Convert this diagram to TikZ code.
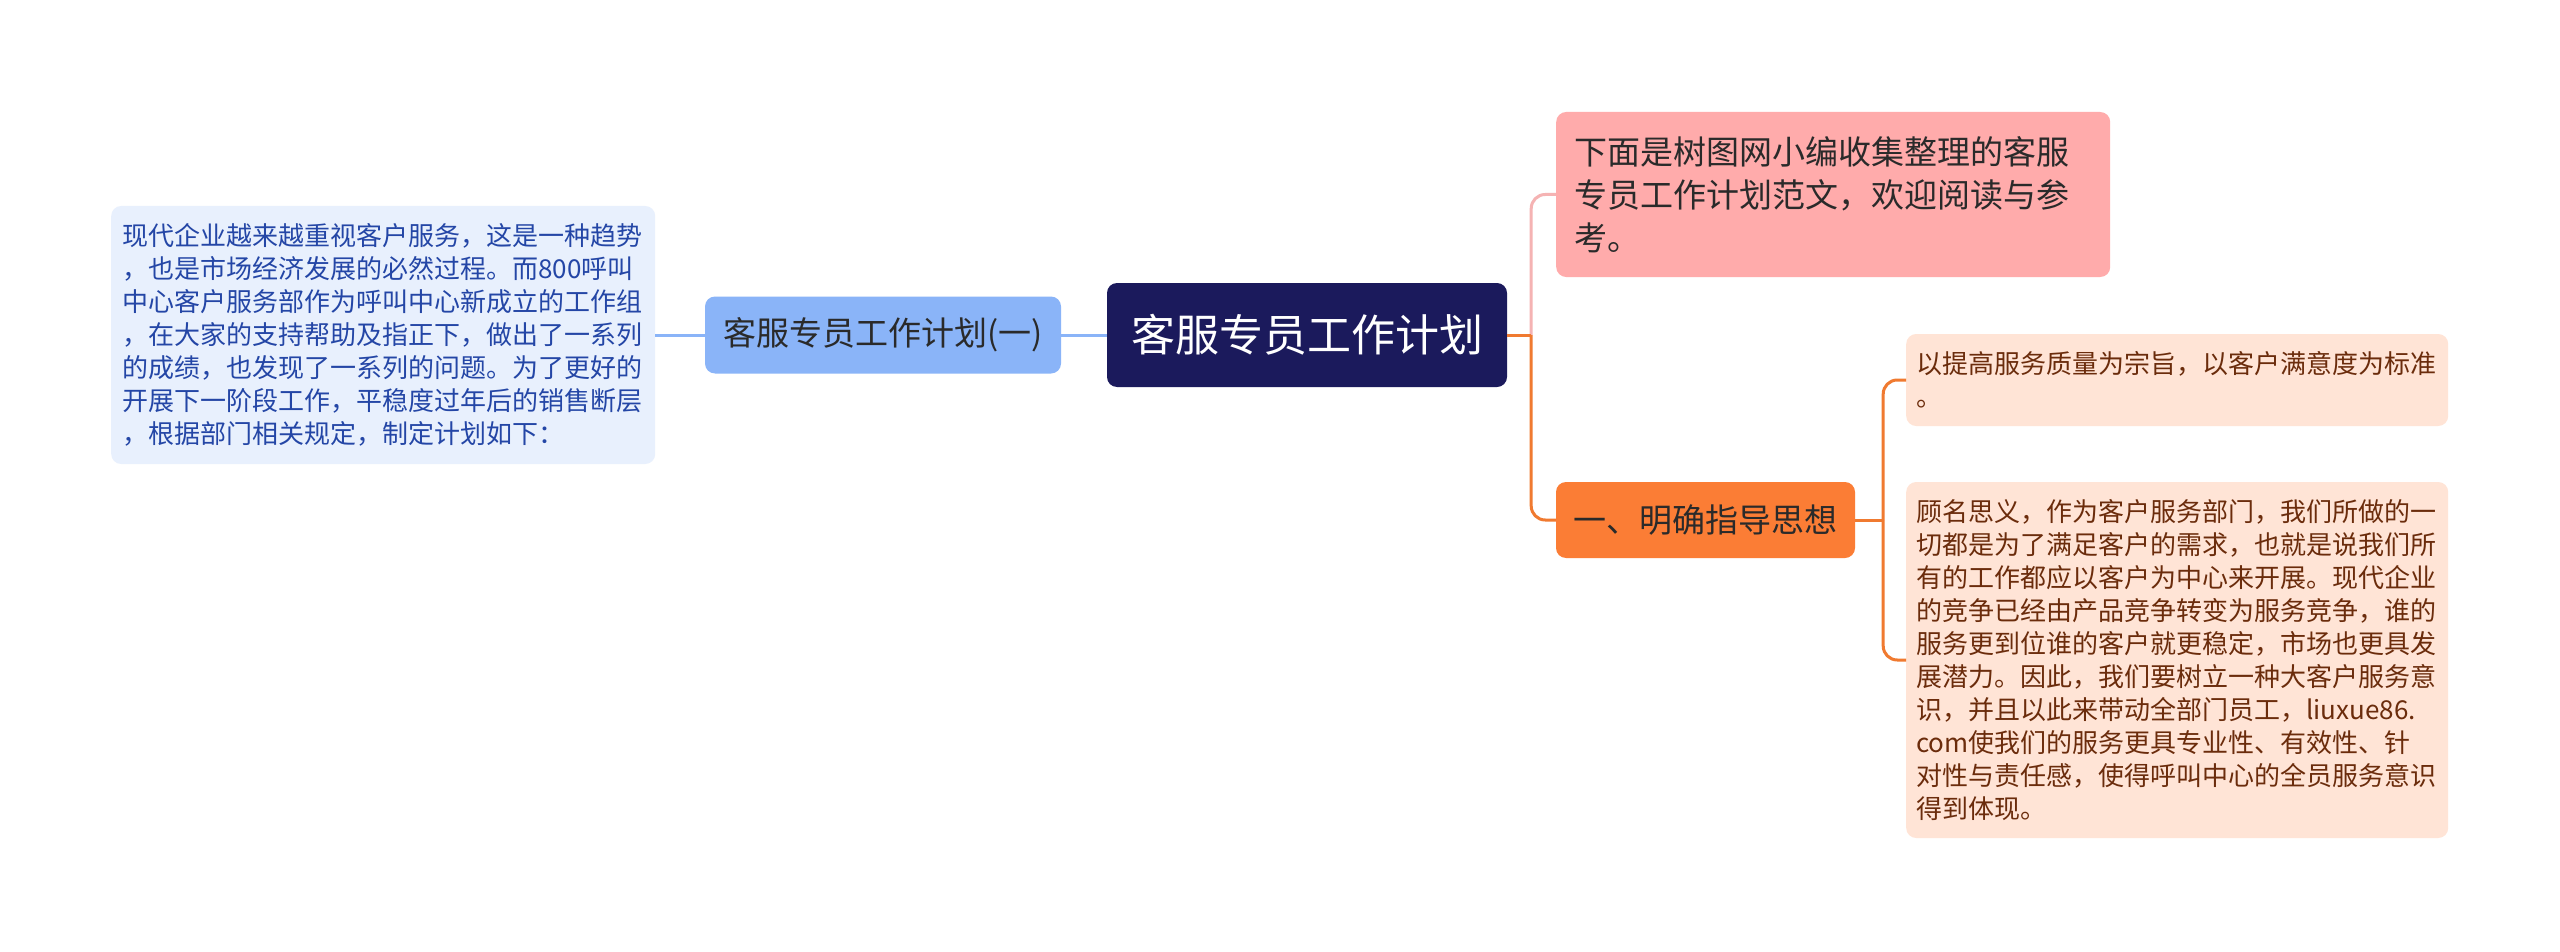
\documentclass[tikz,border=0pt]{standalone}
\usepackage{fontspec}
\newfontfamily\cjk{Noto Sans CJK SC}
\definecolor{leftfill}{HTML}{E8F0FD}
\definecolor{lefttext}{HTML}{2446A6}
\definecolor{subfill}{HTML}{8AB4F8}
\definecolor{blueline}{HTML}{8AB4F8}
\definecolor{rootfill}{HTML}{1B1A5C}
\definecolor{pinkfill}{HTML}{FFABAB}
\definecolor{pinkline}{HTML}{F5B3B3}
\definecolor{orangefill}{HTML}{FB7D35}
\definecolor{orangeline}{HTML}{F07A30}
\definecolor{peachfill}{HTML}{FFE4D6}
\definecolor{peachtext}{HTML}{6B2C0C}
\definecolor{darktext}{HTML}{2A2A2A}
\begin{document}
\begin{tikzpicture}[x=1pt,y=-1pt,
  box/.style={rounded corners=10pt, inner ysep=0pt, align=left},
  small/.style={font=\cjk\fontsize{26}{33}\selectfont},
  mid/.style={font=\cjk\fontsize{33}{43}\selectfont},
  conn/.style={line width=3pt},
  elbow/.style={line width=3pt, rounded corners=14pt}]
\useasboundingbox[fill=white] (0,0) rectangle (2560,952);

\node[box, small, fill=leftfill, text=lefttext, anchor=west, inner xsep=11pt,
  text width=522pt, minimum height=258pt] (lefttextbox) at (111,335)
 {现代企业越来越重视客户服务，这是一种趋势\\
 ，也是市场经济发展的必然过程。而800呼叫\\
 中心客户服务部作为呼叫中心新成立的工作组\\
 ，在大家的支持帮助及指正下，做出了一系列\\
 的成绩，也发现了一系列的问题。为了更好的\\
 开展下一阶段工作，平稳度过年后的销售断层\\
 ，根据部门相关规定，制定计划如下：};

\node[box, mid, fill=subfill, text=darktext, minimum width=356pt,
  minimum height=77pt, inner xsep=0pt] (sub) at (883,335) {客服专员工作计划(一)};

\node[box, fill=rootfill, text=white, font=\cjk\fontsize{44}{52}\selectfont,
  minimum width=400pt, minimum height=104pt, inner xsep=0pt] (root) at (1307,335) {客服专员工作计划};

\node[box, mid, fill=pinkfill, text=darktext, anchor=west, inner xsep=18pt,
  text width=518pt, minimum height=165pt] (pink) at (1556,194.5)
 {下面是树图网小编收集整理的客服\\
 专员工作计划范文，欢迎阅读与参\\
 考。};

\node[box, mid, fill=orangefill, text=darktext, minimum width=299pt,
  minimum height=76pt, inner xsep=0pt] (orange) at (1705.5,520) {一、明确指导思想};

\node[box, small, fill=peachfill, text=peachtext, anchor=west, inner xsep=10pt,
  text width=522pt, minimum height=92pt] (peachtop) at (1906,380)
 {以提高服务质量为宗旨，以客户满意度为标准\\
 。};

\node[box, small, fill=peachfill, text=peachtext, anchor=west, inner xsep=10pt,
  text width=522pt, minimum height=356pt] (peachbot) at (1906,660)
 {顾名思义，作为客户服务部门，我们所做的一\\
 切都是为了满足客户的需求，也就是说我们所\\
 有的工作都应以客户为中心来开展。现代企业\\
 的竞争已经由产品竞争转变为服务竞争，谁的\\
 服务更到位谁的客户就更稳定，市场也更具发\\
 展潜力。因此，我们要树立一种大客户服务意\\
 识，并且以此来带动全部门员工，liuxue86.\\
 com使我们的服务更具专业性、有效性、针\\
 对性与责任感，使得呼叫中心的全员服务意识\\
 得到体现。};

\path (root.east) ++(24,0) coordinate (rj);
\path (orange.east) ++(28,0) coordinate (oj);

\draw[conn, blueline] (root.west) -- (sub.east);
\draw[conn, blueline] (sub.west) -- (lefttextbox.east);
\draw[elbow, pinkline] (rj) |- (pink.west);
\draw[elbow, orangeline] (rj) |- (orange.west);
\draw[conn, orangeline] (root.east) -- (rj);
\draw[elbow, orangeline] (oj) |- (peachtop.west);
\draw[elbow, orangeline] (oj) |- (peachbot.west);
\draw[conn, orangeline] (orange.east) -- (oj);
\end{tikzpicture}
\end{document}
